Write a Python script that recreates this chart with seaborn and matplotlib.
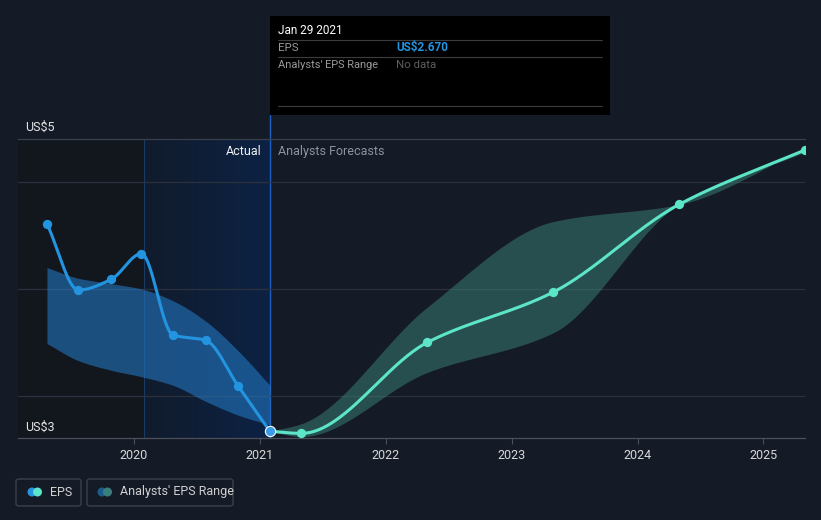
import matplotlib.pyplot as plt
import numpy as np
import pandas as pd
import seaborn as sns
from matplotlib.colors import LinearSegmentedColormap
from matplotlib.lines import Line2D
from matplotlib.patches import Circle, FancyBboxPatch, Rectangle

# actual EPS, dates as decimal years
actual_dates = [2019.31, 2019.56, 2019.82, 2020.06, 2020.31, 2020.57, 2020.83, 2021.08]
actual_eps = [4.61, 3.99, 4.09, 4.33, 3.57, 3.52, 3.09, 2.67]
actual_hi = [4.20, 4.10, 4.05, 4.00, 3.89, 3.70, 3.42, 3.10]
actual_lo = [3.49, 3.33, 3.24, 3.18, 3.10, 2.95, 2.82, 2.73]

# analysts forecasts
fc_dates = [2021.08, 2021.33, 2022.33, 2023.33, 2024.33, 2025.33]
fc_eps = [2.67, 2.65, 3.50, 3.97, 4.79, 5.30]
fc_hi = [2.67, 2.74, 3.83, 4.63, 4.79, 5.31]
fc_lo = [2.67, 2.62, 3.22, 3.59, 4.79, 5.28]

years = [2020, 2021, 2022, 2023, 2024, 2025]

BG = '#151b26'
BLUE = '#2394e0'
TEAL = '#5ce5c8'
W, H = 821, 520


def smooth(x, y, n=300):
    # monotone cubic through the points, only for drawing the curve
    x = np.asarray(x, float)
    y = np.asarray(y, float)
    h = np.diff(x)
    d = np.diff(y) / h
    m = np.zeros_like(y)
    m[0], m[-1] = d[0], d[-1]
    for i in range(1, len(y) - 1):
        if d[i - 1] * d[i] <= 0:
            m[i] = 0
        else:
            m[i] = 3 * (h[i - 1] + h[i]) / ((2 * h[i] + h[i - 1]) / d[i - 1] + (h[i] + 2 * h[i - 1]) / d[i])
    xs = np.linspace(x[0], x[-1], n)
    idx = np.clip(np.searchsorted(x, xs) - 1, 0, len(h) - 1)
    t = (xs - x[idx]) / h[idx]
    ys = ((2 * t**3 - 3 * t**2 + 1) * y[idx] + (t**3 - 2 * t**2 + t) * h[idx] * m[idx]
          + (-2 * t**3 + 3 * t**2) * y[idx + 1] + (t**3 - t**2) * h[idx] * m[idx + 1])
    return xs, ys


def px(x, y):
    return x / W, 1 - y / H


sns.set_theme(style="dark")
plt.rcParams['font.family'] = ['Roboto', 'DejaVu Sans']

fig = plt.figure(figsize=(W / 100, H / 100), dpi=100, facecolor=BG)
ax = fig.add_axes([18 / W, 82 / H, 787 / W, 299 / H])
ax.set_facecolor(BG)

x0, x1 = 2019.08, 2025.33
y0, y1 = 2.607, 5.402

# past / last-year shading
ax.axvspan(x0, 2020.08, color='#12161d', lw=0, zorder=0)
grad = np.linspace(0, 1, 256).reshape(1, -1)
cmap = LinearSegmentedColormap.from_list('g', ['#111b2c', '#0c2244'])
ax.imshow(grad, extent=[2020.08, 2021.08, y0, y1], aspect='auto', cmap=cmap, zorder=0.5)
ax.axvline(2020.08, color='#1a3a66', lw=0.8, zorder=1)
ax.axvline(2021.08, ymax=(438 - 115) / 299, color='#1f5fbf', lw=1, zorder=1, clip_on=False)

for v in [3, 4, 5]:
    ax.axhline(v, color='#2c323d', lw=0.9, zorder=1)

# bands
xs, hi = smooth(actual_dates, actual_hi)
_, lo = smooth(actual_dates, actual_lo)
ax.fill_between(xs, lo, hi, color='#2379c4', alpha=0.58, lw=0, zorder=2)
xs, hi = smooth(fc_dates, fc_hi)
_, lo = smooth(fc_dates, fc_lo)
ax.fill_between(xs, lo, hi, color='#3f8f84', alpha=0.45, lw=0, zorder=2)

# lines
xs, ys = smooth(actual_dates, actual_eps)
sns.lineplot(x=xs, y=ys, color=BLUE, lw=2.2, ax=ax, zorder=3)
sns.scatterplot(x=actual_dates[:-1], y=actual_eps[:-1], color=BLUE, s=45, lw=0, ax=ax, zorder=4)
xs, ys = smooth(fc_dates, fc_eps)
sns.lineplot(x=xs, y=ys, color=TEAL, lw=2.2, ax=ax, zorder=3)
sns.scatterplot(x=fc_dates[1:], y=fc_eps[1:], color=TEAL, s=45, lw=0, ax=ax, zorder=4)
sns.scatterplot(x=actual_dates[-1:], y=actual_eps[-1:], color='#3a9be6', edgecolor='white',
                s=55, lw=0.8, ax=ax, zorder=5)

ax.set_xlim(x0, x1)
ax.set_ylim(y0, y1)
ax.set_xticks(years)
ax.set_xticklabels([str(y) for y in years])
ax.set_yticks([])
ax.set_xlabel('')
ax.set_ylabel('')
ax.tick_params(axis='x', colors='#d8d8d8', labelsize=9, length=4, width=0.8, pad=4, bottom=True)
ax.tick_params(axis='x', color='#4a4f5a')
for s in ['left', 'right']:
    ax.spines[s].set_visible(False)
ax.spines['top'].set_color('#3a404b')
ax.spines['bottom'].set_color('#4a4f5a')
ax.spines['top'].set_linewidth(0.9)
ax.spines['bottom'].set_linewidth(0.9)

fig.text(*px(25, 127), 'US$5', color='#e6e6e6', fontsize=9, va='center')
fig.text(*px(25, 427), 'US$3', color='#e6e6e6', fontsize=9, va='center')
fig.text(*px(262, 151), 'Actual', color='#f0f0f0', fontsize=9, va='center', ha='right')
fig.text(*px(278, 151), 'Analysts Forecasts', color='#8d939c', fontsize=9, va='center')

# tooltip
fig.add_artist(Rectangle(px(270, 115), 340 / W, 99 / H, transform=fig.transFigure,
                         facecolor='black', edgecolor='none'))
for yy in [40, 57, 106]:
    fig.add_artist(Line2D([278 / W, 602 / W], [1 - yy / H] * 2, color='#3c3c3c', lw=0.8))
fig.text(*px(278, 31), 'Jan 29 2021', color='white', fontsize=8.5, va='center')
fig.text(*px(278, 48), 'EPS', color='#9a9a9a', fontsize=8.2, va='center')
fig.text(*px(396, 48), 'US$2.670', color=BLUE, fontsize=8.5, va='center', fontweight='bold')
fig.text(*px(278, 65), "Analysts' EPS Range", color='#9a9a9a', fontsize=7.9, va='center')
fig.text(*px(396, 65), 'No data', color='#5e5e5e', fontsize=8.2, va='center')

# legend
for (a, b) in [(16, 81), (87, 233)]:
    fig.add_artist(FancyBboxPatch(px(a, 506), (b - a) / W, 27 / H, transform=fig.transFigure,
                                  boxstyle='round,pad=0,rounding_size=0.004',
                                  facecolor=BG, edgecolor='#3b404b', lw=1))
for cx, col in [(32, BLUE), (37.5, TEAL), (102, '#1d5a8c'), (107.5, '#3b7f7c')]:
    fig.add_artist(Circle((cx / 100, (H - 492) / 100), 0.045, transform=fig.dpi_scale_trans,
                          facecolor=col, edgecolor='none'))
fig.text(*px(50, 492), 'EPS', color='#d0d0d0', fontsize=9, va='center')
fig.text(*px(120, 492), "Analysts' EPS Range", color='#d0d0d0', fontsize=9, va='center')

fig.savefig('out.png', dpi=100, facecolor=BG)
